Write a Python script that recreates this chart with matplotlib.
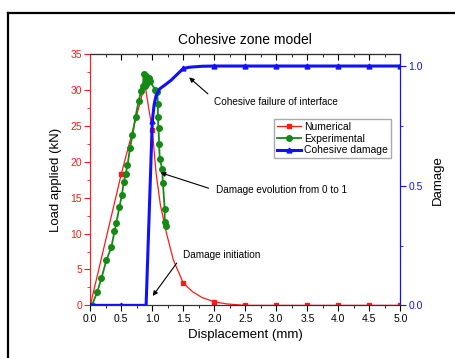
import matplotlib
matplotlib.use("Agg")
import matplotlib.pyplot as plt
from matplotlib.lines import Line2D
from matplotlib.ticker import MultipleLocator

plt.rcParams['font.family'] = ['Liberation Sans', 'DejaVu Sans']

# Numerical load-displacement curve
num_x = [0.0, 0.5, 0.88, 1.0, 1.06, 1.13, 1.23, 1.34, 1.5, 1.65, 1.8, 2.0, 2.2, 2.5, 3.0, 3.5, 4.0, 4.5, 5.0]
num_y = [0.0, 18.3, 30.8, 24.4, 18.5, 14.0, 10.0, 6.3, 3.1, 1.9, 1.1, 0.5, 0.2, 0.0, 0.0, 0.0, 0.0, 0.0, 0.0]
num_marks = [0, 1, 3, 8, 11, 13, 14, 15, 16, 17, 18]

# Experimental load-displacement points
exp_x = [0.03, 0.11, 0.18, 0.26, 0.34, 0.39, 0.42, 0.47, 0.51, 0.54, 0.57, 0.60, 0.64, 0.68,
         0.73, 0.78, 0.82, 0.85, 0.86, 0.88, 0.90, 0.92, 0.94, 0.96, 1.05, 1.08, 1.09, 1.09,
         1.10, 1.11, 1.12, 1.16, 1.17, 1.20, 1.20, 1.22]
exp_y = [0.1, 1.8, 3.8, 6.3, 8.1, 10.3, 11.5, 13.7, 15.4, 17.2, 18.3, 19.5, 21.9, 23.7,
         26.3, 28.5, 29.8, 30.6, 32.2, 30.5, 31.9, 31.0, 31.7, 31.2, 30.0, 29.7, 28.0, 26.2,
         24.7, 22.5, 20.4, 19.0, 17.1, 13.4, 11.6, 11.1]

# Cohesive damage variable
dmg_x = [0.0, 0.5, 0.9, 1.0, 1.03, 1.06, 1.12, 1.2, 1.3, 1.4, 1.5, 1.6, 1.8, 2.0, 2.5, 3.0, 3.5, 4.0, 4.5, 5.0]
dmg_y = [0.0, 0.0, 0.0, 0.77, 0.84, 0.875, 0.905, 0.92, 0.94, 0.965, 0.99, 0.995, 0.999, 1.0,
         1.0, 1.0, 1.0, 1.0, 1.0, 1.0]
dmg_marks = [0, 1, 3, 10, 13, 14, 15, 16, 17, 18, 19]

red = '#ff1a1a'
green = '#138a13'
blue = '#1010ff'

fig = plt.figure(figsize=(4.56, 3.58), dpi=100)
ax = fig.add_axes([0.198, 0.147, 0.68, 0.702])
ax2 = ax.twinx()

l1, = ax.plot(num_x, num_y, color=red, lw=0.9, marker='s', ms=3.2,
              markevery=num_marks, label='Numerical')
l2, = ax.plot(exp_x, exp_y, color=green, lw=1.3, marker='o', ms=4,
              label='Experimental')
l3, = ax2.plot(dmg_x, dmg_y, color=blue, lw=2.2, marker='^', ms=3.5,
               markevery=dmg_marks, label='Cohesive damage')

ax.set_xlim(0, 5)
ax.set_ylim(0, 35)
ax2.set_ylim(0, 1.05)

ax.xaxis.set_major_locator(MultipleLocator(0.5))
ax.xaxis.set_minor_locator(MultipleLocator(0.25))
ax.yaxis.set_major_locator(MultipleLocator(5))
ax.yaxis.set_minor_locator(MultipleLocator(2.5))
ax2.yaxis.set_major_locator(MultipleLocator(0.5))
ax2.yaxis.set_minor_locator(MultipleLocator(0.25))
ax2.yaxis.set_major_formatter(plt.FormatStrFormatter('%.1f'))
ax.xaxis.set_major_formatter(plt.FormatStrFormatter('%.1f'))

ax.tick_params(axis='x', which='both', direction='out', labelsize=7.5, pad=2)
ax.tick_params(axis='x', which='major', length=4)
ax.tick_params(axis='x', which='minor', length=2)
ax.tick_params(axis='y', which='both', colors=red, labelsize=7.5, pad=2)
ax.tick_params(axis='y', which='major', length=4)
ax.tick_params(axis='y', which='minor', length=2)
ax2.tick_params(axis='y', which='both', colors=blue, labelsize=7.5, pad=2)
ax2.tick_params(axis='y', which='major', length=4)
ax2.tick_params(axis='y', which='minor', length=2.5)

# top ticks pointing inward
top = ax.secondary_xaxis('top')
top.xaxis.set_major_locator(MultipleLocator(0.5))
top.xaxis.set_minor_locator(MultipleLocator(0.25))
top.tick_params(which='both', direction='in', labeltop=False)
top.tick_params(which='major', length=4)
top.tick_params(which='minor', length=2)

ax.spines['left'].set_color(red)
ax2.spines['left'].set_visible(False)
ax2.spines['right'].set_color(blue)
for a in (ax, ax2):
    a.spines['top'].set_color('#333333')
    a.spines['bottom'].set_color('#333333')

ax.set_xlabel('Displacement (mm)', fontsize=9.5, labelpad=4)
ax.set_ylabel('Load applied (kN)', fontsize=9.5, labelpad=6)
ax2.set_ylabel('Damage', fontsize=9.5, labelpad=6)
ax.set_title('Cohesive zone model', fontsize=10, pad=7)

ax2.legend(handles=[l1, l2, l3], loc='upper right', bbox_to_anchor=(0.97, 0.742),
           fontsize=7.5, fancybox=False, edgecolor='#aaaaaa', framealpha=1,
           labelspacing=0.15, handlelength=2.3, handletextpad=0.3,
           borderpad=0.3, borderaxespad=0)

arrow = dict(arrowstyle='-|>', color='black', lw=0.8, mutation_scale=7)
ax.annotate('', xy=(1.56, 32.0), xytext=(1.93, 29.2), arrowprops=arrow)
ax.text(2.0, 28.3, 'Cohesive failure of interface', fontsize=7.2, va='center')
ax.annotate('', xy=(1.09, 18.6), xytext=(1.95, 16.2), arrowprops=arrow)
ax.text(2.03, 16.1, 'Damage evolution from 0 to 1', fontsize=7.2, va='center')
ax.annotate('', xy=(0.98, 1.0), xytext=(1.42, 6.2), arrowprops=arrow)
ax.text(1.5, 7.0, 'Damage initiation', fontsize=7.2, va='center')

# outer frame of the original figure
fig.add_artist(Line2D([8 / 456, 1.0], [1 - 13 / 358, 1 - 13 / 358], color='black', lw=1.6))
fig.add_artist(Line2D([8 / 456, 8 / 456], [0.0, 1 - 13 / 358], color='black', lw=1.6))

fig.savefig('out.png', dpi=100)
